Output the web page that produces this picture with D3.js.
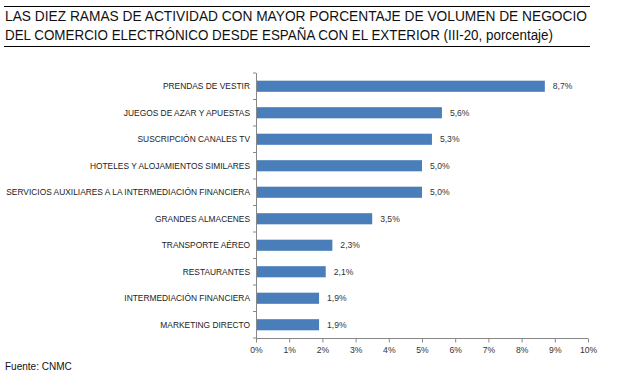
<!DOCTYPE html>
<html>
<head>
<meta charset="utf-8">
<script src="https://cdn.jsdelivr.net/npm/d3@7"></script>
<style>
  body { margin: 0; background: #fff; }
  svg { font-family: "Liberation Sans", Arial, sans-serif; }
</style>
</head>
<body>
<svg id="chart" width="621" height="384"></svg>
<script>
const categories = [
  "PRENDAS DE VESTIR",
  "JUEGOS DE AZAR Y APUESTAS",
  "SUSCRIPCIÓN CANALES TV",
  "HOTELES  Y ALOJAMIENTOS SIMILARES",
  "SERVICIOS AUXILIARES A LA INTERMEDIACIÓN FINANCIERA",
  "GRANDES ALMACENES",
  "TRANSPORTE AÉREO",
  "RESTAURANTES",
  "INTERMEDIACIÓN FINANCIERA",
  "MARKETING DIRECTO",
];
const values = [8.7, 5.6, 5.3, 5.0, 5.0, 3.5, 2.3, 2.1, 1.9, 1.9];
const ticks = [0, 1, 2, 3, 4, 5, 6, 7, 8, 9, 10];
const titleLines = [
  "LAS DIEZ RAMAS DE ACTIVIDAD CON MAYOR PORCENTAJE DE VOLUMEN DE NEGOCIO",
  "DEL COMERCIO ELECTRÓNICO DESDE ESPAÑA CON EL EXTERIOR (III-20, porcentaje)",
];

const svg = d3.select("#chart");
const fmt = d => d.toFixed(1).replace(".", ",") + "%";

// title with rules
svg.append("line").attr("x1", 4).attr("x2", 590).attr("y1", 6.5).attr("y2", 6.5)
  .attr("stroke", "#000").attr("stroke-width", 1);
svg.append("line").attr("x1", 4).attr("x2", 590).attr("y1", 46.5).attr("y2", 46.5)
  .attr("stroke", "#000").attr("stroke-width", 1);
svg.selectAll("text.title").data(titleLines).enter().append("text")
  .attr("class", "title")
  .attr("x", 5)
  .attr("y", (d, i) => 21 + i * 19)
  .attr("font-size", 14)
  .attr("fill", "#111")
  .attr("textLength", (d, i) => i === 0 ? 582 : 548)
  .attr("lengthAdjust", "spacingAndGlyphs")
  .text(d => d);

const x = d3.scaleLinear().domain([0, 10]).range([256, 588]);
const y = d3.scaleBand().domain(categories).range([73, 338]).paddingInner(0.58).paddingOuter(0.29);

// bars
svg.selectAll("rect.bar").data(values).enter().append("rect")
  .attr("class", "bar")
  .attr("x", x(0))
  .attr("y", (d, i) => y(categories[i]))
  .attr("width", d => x(d) - x(0))
  .attr("height", y.bandwidth())
  .attr("fill", "#4a7ebb");

// value labels
svg.selectAll("text.val").data(values).enter().append("text")
  .attr("class", "val")
  .attr("x", d => x(d) + 8)
  .attr("y", (d, i) => y(categories[i]) + y.bandwidth() / 2)
  .attr("dy", "0.35em")
  .attr("font-size", 8.6)
  .attr("fill", "#333")
  .text(fmt);

// category labels
svg.selectAll("text.cat").data(categories).enter().append("text")
  .attr("class", "cat")
  .attr("x", 250)
  .attr("y", d => y(d) + y.bandwidth() / 2)
  .attr("dy", "0.35em")
  .attr("text-anchor", "end")
  .attr("font-size", 8.4)
  .attr("fill", "#222")
  .text(d => d);

// y axis line with band ticks
svg.append("line").attr("x1", x(0) + 0.5).attr("x2", x(0) + 0.5).attr("y1", 73).attr("y2", 338)
  .attr("stroke", "#888");
svg.selectAll("line.yt").data(d3.range(categories.length + 1)).enter().append("line")
  .attr("class", "yt")
  .attr("x1", x(0) - 3).attr("x2", x(0))
  .attr("y1", i => 73 + i * y.step())
  .attr("y2", i => 73 + i * y.step())
  .attr("stroke", "#888");

// x axis
const xAxis = d3.axisBottom(x).tickValues(ticks).tickSize(4).tickFormat(d => d + "%");
const gx = svg.append("g").attr("transform", "translate(0,338.5)").call(xAxis);
gx.select(".domain").attr("stroke", "#888").attr("d", `M${x(0)},0H${x(10)}`);
gx.selectAll(".tick line").attr("stroke", "#888");
gx.selectAll(".tick text").attr("font-size", 8.6).attr("fill", "#333")
  .attr("font-family", "Liberation Sans, Arial, sans-serif").attr("dy", "0.9em");

// source
svg.append("text").attr("x", 5).attr("y", 370).attr("font-size", 10).attr("fill", "#111")
  .text("Fuente: CNMC");
</script>
</body>
</html>
